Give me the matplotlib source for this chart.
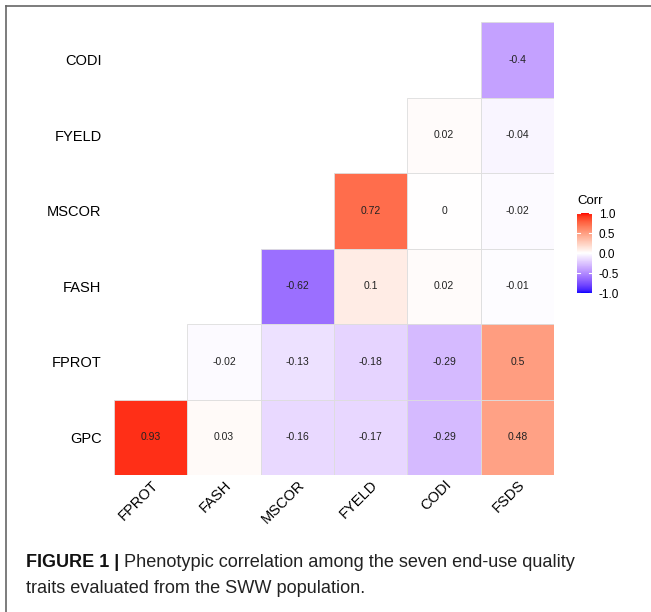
import numpy as np
import matplotlib
matplotlib.use("Agg")
from matplotlib import pyplot as plt
from matplotlib.colors import ListedColormap, Normalize
from matplotlib.lines import Line2D
from matplotlib.patches import Rectangle

plt.rcParams['font.family'] = ['Liberation Sans', 'DejaVu Sans']

row_labels = ["CODI", "FYELD", "MSCOR", "FASH", "FPROT", "GPC"]
col_labels = ["FPROT", "FASH", "MSCOR", "FYELD", "CODI", "FSDS"]
nan = np.nan
corr = np.array([
    [nan, nan, nan, nan, nan, -0.4],
    [nan, nan, nan, nan, 0.02, -0.04],
    [nan, nan, nan, 0.72, 0.0, -0.02],
    [nan, nan, -0.62, 0.1, 0.02, -0.01],
    [nan, -0.02, -0.13, -0.18, -0.29, 0.5],
    [0.93, 0.03, -0.16, -0.17, -0.29, 0.48],
])
cbar_ticks = [-1.0, -0.5, 0.0, 0.5, 1.0]


# blue - white - red gradient interpolated in Lab space (like ggplot2)
M = np.array([[0.4124, 0.3576, 0.1805],
              [0.2126, 0.7152, 0.0722],
              [0.0193, 0.1192, 0.9505]])
WP = np.array([0.95047, 1.0, 1.08883])


def to_lab(rgb):
    c = np.array(rgb, dtype=float)
    c = np.where(c > 0.04045, ((c + 0.055) / 1.055) ** 2.4, c / 12.92)
    xyz = M @ c / WP
    f = np.where(xyz > 0.008856, np.cbrt(xyz), 7.787 * xyz + 16 / 116)
    return np.array([116 * f[1] - 16, 500 * (f[0] - f[1]), 200 * (f[1] - f[2])])


def from_lab(lab):
    fy = (lab[0] + 16) / 116
    fx = fy + lab[1] / 500
    fz = fy - lab[2] / 200
    f = np.array([fx, fy, fz])
    xyz = np.where(f ** 3 > 0.008856, f ** 3, (f - 16 / 116) / 7.787) * WP
    c = np.linalg.solve(M, xyz)
    c = np.where(c > 0.0031308, 1.055 * np.clip(c, 0, None) ** (1 / 2.4) - 0.055, 12.92 * c)
    return np.clip(c, 0, 1)


lab_w, lab_b, lab_r = to_lab([1, 1, 1]), to_lab([0, 0, 1]), to_lab([1, 0, 0])
cols_rgb = []
for v in np.linspace(-1, 1, 256):
    end = lab_b if v < 0 else lab_r
    cols_rgb.append(from_lab(lab_w + abs(v) * (end - lab_w)))
cmap = ListedColormap(cols_rgb)
norm = Normalize(-1, 1)

fig = plt.figure(figsize=(6.51, 6.12), dpi=100)
W, H = 651, 612

ax = fig.add_axes([114 / W, 1 - 475 / H, 440 / W, 453 / H])
for i in range(6):
    for j in range(6):
        v = corr[i, j]
        if np.isnan(v):
            continue
        ax.add_patch(Rectangle((j, i), 1, 1, facecolor=cmap(norm(v)),
                               edgecolor='#dddddd', lw=0.6))
        ax.text(j + 0.5, i + 0.5, f"{v:g}", ha='center', va='center',
                fontsize=7.5, color='#222222')
ax.set_xlim(0, 6)
ax.set_ylim(6, 0)

ax.set_xticks(np.arange(6) + 0.5)
ax.set_xticklabels(col_labels, rotation=45, ha='right', rotation_mode='anchor', fontsize=10.5)
ax.set_yticks(np.arange(6) + 0.5)
ax.set_yticklabels(row_labels, fontsize=10.5)
ax.tick_params(axis='y', length=0, pad=9)
ax.tick_params(axis='x', length=0, pad=2)
for s in ax.spines.values():
    s.set_visible(False)

# colour bar
cax = fig.add_axes([577 / W, 1 - 293 / H, 15 / W, 80 / H])
cb = fig.colorbar(plt.cm.ScalarMappable(norm=norm, cmap=cmap), cax=cax, ticks=cbar_ticks)
cb.outline.set_visible(False)
cax.tick_params(length=0, labelsize=8.5, pad=5)
cax.set_yticklabels([f"{t:.1f}" for t in cbar_ticks])
for t in cbar_ticks:
    cax.plot([0, 0.2], [t, t], color='white', lw=0.8)
    cax.plot([0.8, 1.0], [t, t], color='white', lw=0.8)
fig.text(577 / W, 1 - 201 / H, "Corr", fontsize=9.5, va='center', ha='left')

# frame
fig.add_artist(Line2D([6 / W, 1], [1 - 6 / H, 1 - 6 / H], color='#666666', lw=1.2))
fig.add_artist(Line2D([6 / W, 6 / W], [0, 1 - 6 / H], color='#666666', lw=1.2))

# caption
cap = ['Liberation Sans Narrow', 'Liberation Sans', 'DejaVu Sans']
fig.canvas.draw()
r = fig.canvas.get_renderer()
t1 = fig.text(26 / W, 1 - 567 / H, "FIGURE 1 |", fontsize=13, fontweight='bold',
              va='baseline', color='#111111', family=cap)
bb = t1.get_window_extent(r)
fig.text((bb.x1 + 5) / W, 1 - 567 / H, "Phenotypic correlation among the seven end-use quality",
         fontsize=13.1, va='baseline', color='#222222', family=cap)
fig.text(26 / W, 1 - 593 / H, "traits evaluated from the SWW population.",
         fontsize=13.1, va='baseline', color='#222222', family=cap)

fig.savefig("out.png", dpi=100)
